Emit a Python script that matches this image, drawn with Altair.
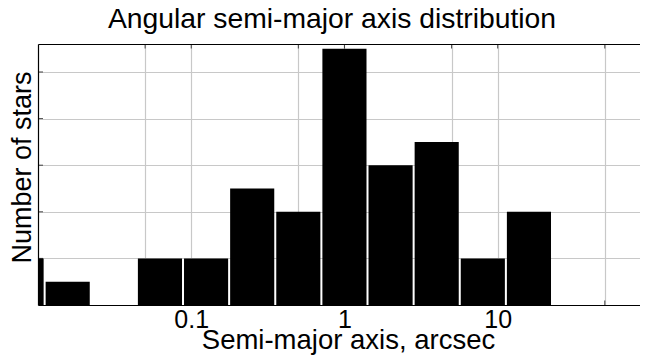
import altair as alt
import pandas as pd

# Histogram bins (centres are powers of two, in arcsec) and counts
bin_centres = [0.0078125, 0.015625, 0.03125, 0.0625, 0.125, 0.25, 0.5, 1, 2, 4, 8, 16]
counts = [2, 1, 0, 2, 2, 5, 4, 11, 6, 7, 2, 4]

x_tick_values = [0.05, 0.1, 0.5, 1, 5, 10, 50]
x_label_values = [0.1, 1, 10]
y_tick_values = [2, 4, 6, 8, 10]

X_DOMAIN = [0.01, 84.9]
Y_DOMAIN = [0, 11.2]

df = pd.DataFrame({"centre": bin_centres, "count": counts})
xt = pd.DataFrame({"v": x_tick_values})
yt = pd.DataFrame({"v": y_tick_values})

FONT = "Liberation Sans"
GAP = 1 / 46.0

xscale = alt.Scale(type="log", domain=X_DOMAIN, nice=False)
yscale = alt.Scale(domain=Y_DOMAIN, nice=False, zero=True)

label_expr = "(datum.value==0.1||datum.value==1||datum.value==10) ? datum.label : ''"

bars = alt.Chart(df).transform_calculate(
    lo=f"datum.centre*pow(2,-0.5+{GAP})",
    hi=f"datum.centre*pow(2,0.5-{GAP})",
).mark_bar(color="black", clip=True).encode(
    x=alt.X("lo:Q", scale=xscale,
            axis=alt.Axis(orient="bottom", values=x_tick_values, labelExpr=label_expr, format="~g",
                          grid=True, gridColor="#c8c8c8", gridWidth=1.2,
                          ticks=False, domain=True, domainColor="black", domainWidth=1.2,
                          labelFont=FONT, labelFontSize=25, labelColor="black",
                          labelPadding=2, labelFlush=False,
                          title="Semi-major axis, arcsec", titleFont=FONT,
                          titleFontSize=27.5, titleFontWeight="normal", titleColor="black",
                          titleBaseline="alphabetic", titleY=43, titleX=310)),
    x2="hi:Q",
    y=alt.Y("count:Q", scale=yscale,
            axis=alt.Axis(orient="left", values=y_tick_values, labels=False, ticks=False,
                          domain=True, domainColor="black", domainWidth=1.2,
                          grid=True, gridColor="#c8c8c8", gridWidth=1.2,
                          title="Number of stars", titleFont=FONT, titleFontSize=27,
                          titleFontWeight="normal", titleColor="black",
                          titleBaseline="alphabetic", titleX=-8, titleY=123, titleAngle=-90)),
    y2=alt.datum(0),
)

# inward tick marks on the frame (clipped to the plot area); top layer also draws the top frame line
top_ticks = alt.Chart(xt).mark_tick(orient="vertical", color="black", size=9, thickness=1, clip=True).encode(
    x=alt.X("v:Q", scale=xscale,
            axis=alt.Axis(orient="top", domain=True, domainColor="black", domainWidth=1.2,
                          ticks=False, labels=False, grid=False, title=None)),
    y=alt.YDatum(Y_DOMAIN[1], scale=yscale, axis=None))
bottom_ticks = alt.Chart(xt).mark_tick(orient="vertical", color="black", size=9, thickness=1, clip=True).encode(
    x=alt.X("v:Q", scale=xscale, axis=None),
    y=alt.YDatum(0, scale=yscale, axis=None))
left_ticks = alt.Chart(yt).mark_tick(orient="horizontal", color="black", size=10, thickness=1, clip=True).encode(
    y=alt.Y("v:Q", scale=yscale, axis=None),
    x=alt.XDatum(X_DOMAIN[0], scale=xscale, axis=None))

chart = alt.layer(bars, top_ticks, bottom_ticks, left_ticks).resolve_axis(
    x="independent", y="independent"
).properties(
    width=602, height=261,
    autosize=alt.AutoSizeParams(type="none"),
    padding={"left": 30, "top": 36, "right": 0, "bottom": 50},
    title=alt.Title("Angular semi-major axis distribution", font=FONT, fontSize=28.3,
                    fontWeight="normal", color="black", anchor="middle", dx=-7,
                    baseline="alphabetic", offset=-12),
).configure_view(stroke=None).configure(background="white")

chart.save("out.html", embed_options={"renderer": "svg", "actions": False})
